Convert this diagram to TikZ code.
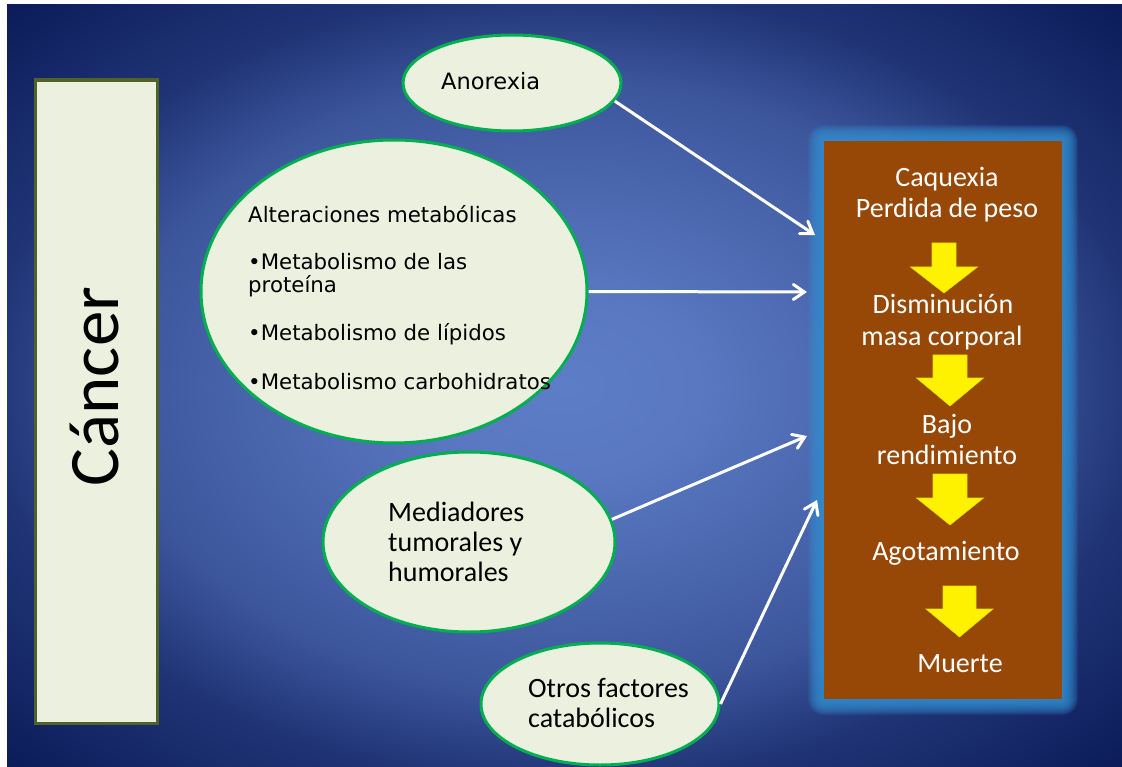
\documentclass[tikz,border=0pt]{standalone}
\usepackage{fontspec}
\setmainfont{Carlito}
\newfontfamily\verd{DejaVu Sans}
\newfontfamily\calib{Carlito}
\usetikzlibrary{shapes.geometric,arrows.meta}
\definecolor{bgin}{RGB}{93,125,198}
\definecolor{bgin2}{RGB}{89,120,193}
\definecolor{bgmid}{RGB}{60,86,156}
\definecolor{bgedge}{RGB}{32,52,117}
\definecolor{bgout}{RGB}{10,26,88}
\definecolor{ellfill}{RGB}{235,241,222}
\definecolor{ellline}{RGB}{0,176,80}
\definecolor{oliveline}{RGB}{79,98,40}
\definecolor{brownbox}{RGB}{152,72,6}
\definecolor{glowc}{RGB}{52,142,208}
\pgfdeclareradialshading{bgshade}{\pgfpoint{0bp}{0bp}}{color(0bp)=(bgin); color(6bp)=(bgin2); color(20bp)=(bgmid); color(26bp)=(bgedge); color(36bp)=(bgout); color(50bp)=(bgout)}
\newcommand\yblk[6]{%
  \fill[yarrow] (#1-#2,#4) -- (#1+#2,#4) -- (#1+#2,#5) -- (#1+#3,#5) -- (#1,#6) -- (#1-#3,#5) -- (#1-#2,#5) -- cycle;}
\tikzset{
  ell/.style={ellipse, draw=ellline, fill=ellfill, line width=3pt, inner sep=0pt},
  vtext/.style={font=\verd\fontsize{21.3}{23}\selectfont, text=black, inner sep=0pt, anchor=base west},
  atext/.style={font=\verd\fontsize{22.5}{25}\selectfont, text=black, inner sep=0pt, anchor=base west},
  ctext/.style={font=\calib\fontsize{28}{30}\selectfont, text=black, inner sep=0pt, anchor=base west},
  btext/.style={font=\calib\fontsize{28}{31}\selectfont, text=white, inner sep=0pt, anchor=base},
  conn/.style={draw=white, line width=3pt, -{Straight Barb[length=11pt,width=15pt,line cap=round]}},
  yarrow/.style={fill=yellow, draw={rgb,255:red,225;green,225;blue,0}, line width=0.6pt}
}
\begin{document}
\begin{tikzpicture}[x=1pt,y=-1pt]
\useasboundingbox (0,0) rectangle (1122,767);
\fill[white] (0,0) rectangle (1122,767);
\shade[shading=bgshade] (7,5) rectangle (1122,767);

% soft glow around the brown box
\foreach \o in {1,...,16}
  \fill[glowc, opacity=0.13, rounded corners=\o pt] (824-\o,141-\o) rectangle (1062+\o,699+\o);

\node[fill=brownbox, minimum width=238pt, minimum height=558pt, inner sep=0pt, anchor=north west] (cax) at (824,141) {};

% Cancer box
\node[draw=oliveline, fill=ellfill, line width=3.2pt, minimum width=122pt, minimum height=643pt, inner sep=0pt, anchor=north west] (canbox) at (33.5,78.5) {};
\node[rotate=90, anchor=base, font=\calib\fontsize{71}{80}\selectfont, inner sep=0pt] (tcan) at (118,386.5) {Cáncer};

% ellipses
\node[ell, minimum width=218pt, minimum height=96pt] (anor) at (512,83) {};
\node[ell, minimum width=386pt, minimum height=303pt] (meta) at (394,291.5) {};
\node[ell, minimum width=292pt, minimum height=180pt] (medi) at (469,542) {};
\node[ell, minimum width=238pt, minimum height=122pt] (otros) at (600,704) {};

% ellipse texts
\node[atext] (tanor) at (441,90) {Anorexia};
\node[vtext] (talt) at (248,223) {Alteraciones metabólicas};
\node[vtext] (tprot1) at (248,270) {•Metabolismo de las};
\node[vtext] (tprot2) at (248,293) {proteína};
\node[vtext] (tlip) at (248,341) {•Metabolismo de lípidos};
\node[vtext] (tcarb) at (248,389) {•Metabolismo carbohidratos};
\node[ctext] (tmed1) at (388,521.7) {Mediadores};
\node[ctext] (tmed2) at (388,551.7) {tumorales y};
\node[ctext] (tmed3) at (388,581.7) {humorales};
\node[ctext] (totr1) at (528,697) {Otros factores};
\node[ctext] (totr2) at (528,727) {catabólicos};

% brown box texts
\node[btext] (bc1) at (947,187) {Caquexia};
\node[btext] (bc2) at (947,218) {Perdida de peso};
\node[btext] (bd1) at (943,314) {Disminución};
\node[btext] (bd2) at (942,345) {masa corporal};
\node[btext] (bb1) at (947,433) {Bajo};
\node[btext] (bb2) at (947,464) {rendimiento};
\node[btext] (bag) at (946,560) {Agotamiento};
\node[btext] (bmu) at (960,672) {Muerte};

% yellow block arrows
\yblk{944}{12}{33.5}{243}{267}{293}
\yblk{950}{17}{33.5}{355}{378}{406}
\yblk{950}{17}{33.5}{474}{498}{525}
\yblk{959.5}{16.5}{33.5}{586}{609}{637}

% connectors
\coordinate (t1) at (815,235);
\coordinate (t2) at (807,292);
\coordinate (t3) at (807,436);
\coordinate (t4) at (817,500);
\draw[conn] (anor.-10) -- (t1);
\draw[conn] (meta.0) -- (t2);
\draw[conn] (medi.9) -- (t3);
\draw[conn] (otros.0) -- (t4);
\end{tikzpicture}
\end{document}
